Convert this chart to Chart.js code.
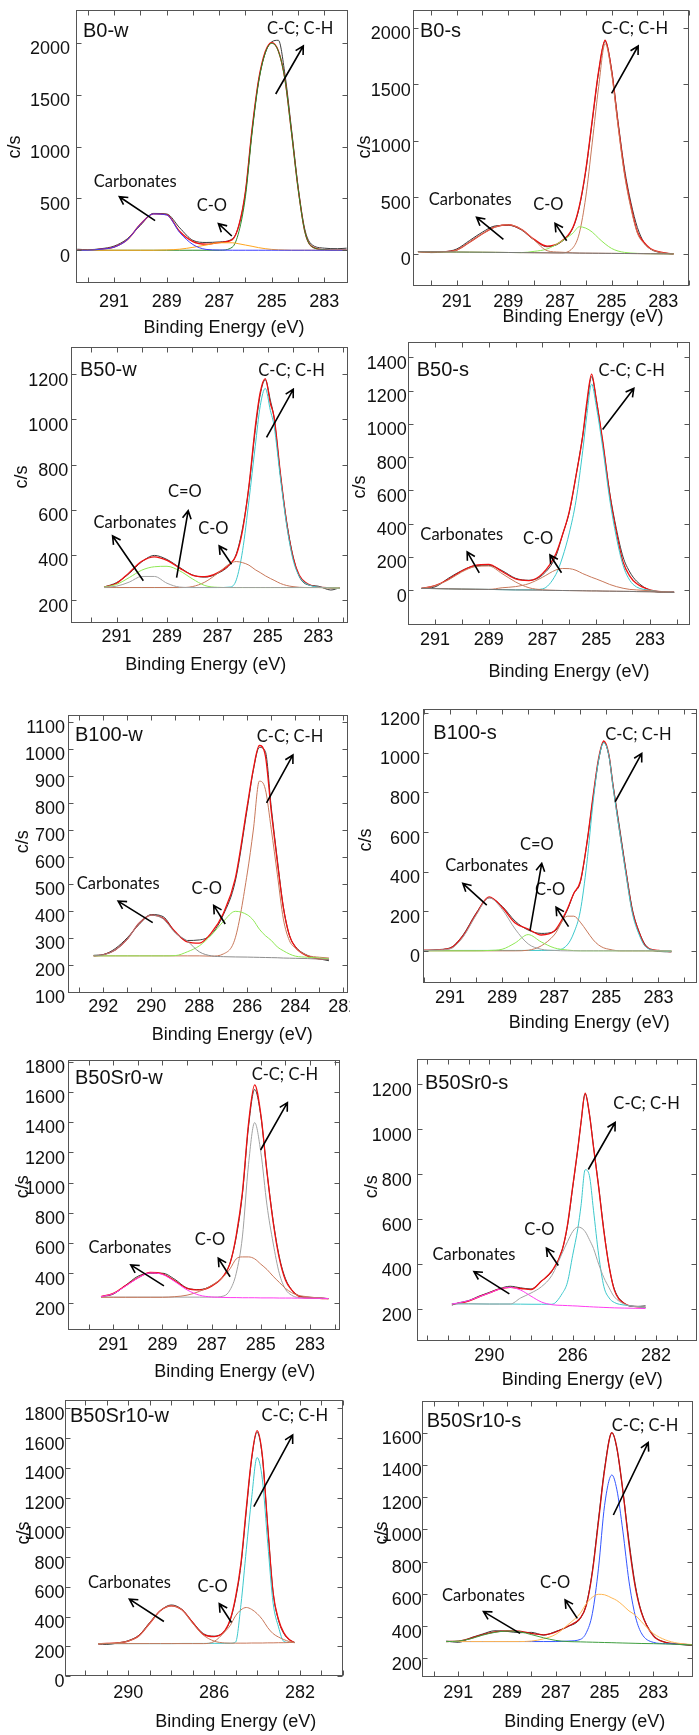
<!DOCTYPE html>
<html>
<head>
<meta charset="utf-8">
<script src="https://cdn.jsdelivr.net/npm/chart.js@4.4.1/dist/chart.umd.min.js"></script>
<style>
  body { margin: 0; background: #fff; }
  #fig { position: relative; width: 699px; height: 1735px; background: #fff; overflow: hidden; }
  #fig canvas { position: absolute; }
</style>
</head>
<body>
<div id="fig"></div>
<script>
"use strict";

// ---------- B0-w ----------
const b0wEnergy = [292.4, 292, 291.5, 291, 290.5, 290, 289.5, 289, 288.5, 288, 287.5, 287, 286.5, 286.25, 286, 285.75, 285.5, 285.25, 285, 284.75, 284.5, 284.25, 284, 283.75, 283.5, 283, 282.5, 282.15];
const b0wRaw  = [10, 5, 15, 40, 110, 240, 355, 350, 215, 95, 75, 80, 110, 240, 560, 1150, 1630, 1900, 2010, 2025, 1700, 1170, 620, 210, 60, 20, 15, 20];
const b0wFit  = [0, 0, 10, 30, 100, 250, 350, 343, 180, 83, 58, 74, 102, 242, 570, 1168, 1645, 1915, 2003, 1924, 1652, 1140, 600, 190, 40, 5, 0, 0];
const b0wCC   = [0, 0, 0, 0, 0, 0, 0, 0, 0, 0, 0, 0, 30, 180, 520, 1130, 1620, 1900, 1995, 1920, 1650, 1140, 600, 190, 40, 5, 0, 0];
const b0wCO   = [0, 0, 0, 0, 0, 0, 0, 3, 10, 28, 50, 72, 72, 62, 50, 38, 25, 15, 8, 4, 2, 0, 0, 0, 0, 0, 0, 0];
const b0wCarb = [0, 0, 10, 30, 100, 250, 350, 340, 170, 55, 8, 2, 0, 0, 0, 0, 0, 0, 0, 0, 0, 0, 0, 0, 0, 0, 0, 0];
const b0wYTicks = [0, 500, 1000, 1500, 2000];
const b0wXLabels = [291, 289, 287, 285, 283];

// ---------- B0-s ----------
const b0sEnergy = [292.5, 292, 291.5, 291, 290.5, 290, 289.5, 289, 288.5, 288, 287.5, 287, 286.5, 286.25, 286, 285.75, 285.5, 285.25, 285, 284.75, 284.5, 284.25, 284, 283.75, 283.5, 283, 282.6];
const b0sRaw  = [18, 8, 14, 40, 115, 190, 245, 250, 210, 120, 60, 95, 225, 410, 730, 1170, 1610, 1880, 1630, 1170, 750, 450, 230, 100, 40, 5, -2];
const b0sFit  = [16, 15, 16, 30, 100, 175, 235, 255, 215, 125, 65, 100, 230, 420, 740, 1180, 1620, 1890, 1620, 1150, 720, 420, 190, 100, 45, 8, -4];
const b0sCC   = [16, 15, 14, 13, 12, 11, 10, 9, 8, 7, 6, 5, 50, 180, 500, 980, 1480, 1860, 1600, 1130, 700, 400, 180, 90, 40, 5, -4];
const b0sCO   = [16, 15, 14, 13, 12, 11, 10, 9, 8, 19, 40, 100, 180, 237, 225, 190, 135, 85, 45, 22, 10, 4, 1, -1, -2, -3, -4];
const b0sCarb = [16, 15, 16, 30, 100, 175, 235, 255, 215, 120, 25, 12, 6, 3.5, 3, 2.5, 2, 1.5, 1, 0.5, 0, -0.5, -1, -1.5, -2, -3, -4];
const b0sBase = [16, 15, 14, 13, 12, 11, 10, 9, 8, 7, 6, 5, 4, 3.5, 3, 2.5, 2, 1.5, 1, 0.5, 0, -0.5, -1, -1.5, -2, -3, -4];
const b0sYTicks = [0, 500, 1000, 1500, 2000];
const b0sXLabels = [291, 289, 287, 285, 283];

// ---------- B50-w ----------
const b50wEnergy = [291.5, 291, 290.5, 290, 289.5, 289, 288.5, 288, 287.5, 287, 286.5, 286.25, 286, 285.75, 285.5, 285.3, 285.1, 284.9, 284.75, 284.5, 284.25, 284, 283.75, 283.5, 283, 282.5, 282.15];
const b50wRaw  = [258, 278, 318, 370, 398, 380, 345, 312, 302, 318, 358, 405, 520, 700, 950, 1110, 1175, 1085, 1005, 755, 545, 395, 305, 272, 262, 245, 255];
const b50wFit  = [257, 275, 322, 372, 392, 376, 342, 311, 304, 321, 360, 400, 510, 705, 965, 1120, 1180, 1071, 1010, 760, 540, 390, 310, 278, 258, 255, 252];
const b50wCC   = [256, 256, 256, 256, 256, 256, 256, 256, 256, 256, 258, 290, 420, 640, 880, 1060, 1137, 1040, 970, 740, 530, 380, 305, 275, 258, 255, 252];
const b50wCO   = [256, 256, 256, 256, 256, 256, 256, 260, 280, 318, 362, 371, 366, 355, 335, 322, 308, 296, 288, 274, 265, 260, 257, 256, 256, 255, 253];
const b50wCeqO = [258, 270, 300, 333, 348, 350, 330, 295, 265, 257, 256, 256, 256, 256, 256, 256, 256, 256, 256, 256, 256, 256, 256, 256, 256, 255, 253];
const b50wCarb = [257, 262, 280, 305, 305, 275, 258, 256, 256, 256, 256, 256, 256, 256, 256, 256, 256, 256, 256, 256, 256, 256, 256, 256, 256, 255, 253];
const b50wYTicks = [200, 400, 600, 800, 1000, 1200];
const b50wXLabels = [291, 289, 287, 285, 283];

// ---------- B50-s ----------
const b50sEnergy = [291.5, 291, 290.5, 290, 289.5, 289, 288.5, 288, 287.5, 287, 286.5, 286.25, 286, 285.75, 285.5, 285.35, 285.17, 285, 284.75, 284.5, 284.25, 284, 283.75, 283.5, 283, 282.5, 282.1];
const b50sRaw  = [12, 20, 72, 118, 148, 150, 118, 72, 60, 92, 205, 335, 470, 690, 930, 1110, 1285, 1150, 880, 590, 370, 200, 110, 55, 0, -12, -10];
const b50sFit  = [11, 28, 66, 116, 150, 156, 113, 68, 58, 100, 220, 335, 475, 690, 930, 1130, 1300, 1150, 890, 580, 350, 170, 85, 40, 2, -10, -13];
const b50sCC   = [11, 10, 8.5, 7, 6, 5, 3.5, 2, 3, 8, 95, 200, 345, 540, 840, 1050, 1240, 1110, 850, 550, 320, 150, 60, 20, 0, -10, -13];
const b50sCO   = [11, 10, 8.5, 7, 6, 5, 15, 22, 40, 78, 122, 131, 130, 120, 100, 90, 78, 68, 52, 35, 22, 12, 5, 2, -3, -10, -13];
const b50sCarb = [11, 27, 62, 110, 142, 146, 100, 50, 15, 3, -1, -1.5, -2, -2.5, -3, -3.5, -4, -4, -5, -5.5, -6, -6.5, -7, -8, -9, -11, -13];
const b50sBase = [11, 10, 8.5, 7, 6, 5, 3.5, 2, 1, 0, -1, -1.5, -2, -2.5, -3, -3.5, -4, -4, -5, -5.5, -6, -6.5, -7, -8, -9, -11, -13];
const b50sYTicks = [0, 200, 400, 600, 800, 1000, 1200, 1400];
const b50sXLabels = [291, 289, 287, 285, 283];

// ---------- B100-w ----------
const b100wEnergy = [292.4, 292, 291.5, 291, 290.5, 290, 289.5, 289, 288.5, 288, 287.5, 287, 286.5, 286, 285.75, 285.5, 285.25, 285, 284.75, 284.5, 284.25, 284, 283.5, 283, 282.6];
const b100wRaw  = [235, 238, 260, 300, 350, 386, 378, 320, 290, 292, 312, 385, 510, 780, 920, 1005, 990, 780, 590, 415, 310, 268, 235, 222, 215];
const b100wFit  = [233, 237, 255, 295, 355, 384, 372, 322, 285, 280, 318, 390, 520, 790, 925, 1012, 975, 765, 580, 412, 310, 265, 232, 222, 220];
const b100wCC   = [233, 233, 233, 233, 233, 233, 233, 233, 233, 233, 232, 240, 300, 540, 699, 880, 850, 700, 535, 370, 290, 262, 235, 228, 225];
const b100wCO   = [233, 233, 233, 233, 233, 233, 233, 234, 248, 270, 310, 360, 398, 385, 365, 332, 308, 290, 266, 252, 240, 232, 228, 225, 222];
const b100wCarb = [233, 237, 255, 295, 355, 384, 370, 318, 288, 248, 233, 230, 229, 228.5, 228, 227.5, 227, 226.5, 226, 225, 224.5, 224, 223, 221, 220];
const b100wYTicks = [100, 200, 300, 400, 500, 600, 700, 800, 900, 1000, 1100];
const b100wXLabels = [292, 290, 288, 286, 284, 282];

// ---------- B100-s ----------
const b100sEnergy = [292, 291.5, 291, 290.5, 290, 289.5, 289, 288.5, 288, 287.5, 287, 286.5, 286.25, 286, 285.75, 285.5, 285.3, 285.1, 284.9, 284.75, 284.5, 284.25, 284, 283.75, 283.5, 283, 282.5];
const b100sRaw  = [0, 6, 15, 80, 190, 268, 225, 150, 105, 88, 98, 205, 290, 345, 540, 780, 960, 1055, 985, 845, 630, 410, 210, 100, 30, -3, -5];
const b100sFit  = [3, 5, 12, 75, 185, 272, 220, 140, 110, 80, 100, 210, 290, 350, 540, 790, 970, 1060, 990, 840, 615, 400, 200, 95, 25, 2, -4];
const b100sCC   = [2, 2, 2, 2, 2, 2, 2, 2, 2, 2, 2, 30, 90, 200, 440, 760, 960, 1051, 985, 835, 610, 390, 190, 85, 22, 0, -4];
const b100sCO   = [0, 0, 0, 0, 0, 0, 0, 0, 3, 25, 80, 175, 175, 145, 100, 55, 30, 15, 8, 4, 0, 0, 0, 0, 0, 0, 0];
const b100sCeqO = [0, 0, 0, 0, 0, 2, 8, 40, 82, 45, 15, 4, 1, 0, 0, 0, 0, 0, 0, 0, 0, 0, 0, 0, 0, 0, 0];
const b100sCarb = [2, 4, 10, 70, 180, 268, 210, 110, 35, 8, 2, 0, 0, 0, 0, 0, 0, 0, 0, 0, 0, 0, 0, 0, 0, 0, 0];
const b100sYTicks = [0, 200, 400, 600, 800, 1000, 1200];
const b100sXLabels = [291, 289, 287, 285, 283];

// ---------- B50Sr0-w ----------
const b50sr0wEnergy = [291.5, 291, 290.5, 290, 289.5, 289, 288.5, 288, 287.5, 287, 286.5, 286.25, 286, 285.75, 285.5, 285.25, 285, 284.75, 284.5, 284.25, 284, 283.75, 283.5, 283, 282.5, 282.25];
const b50sr0wRaw  = [245, 262, 320, 380, 400, 400, 360, 302, 292, 318, 385, 470, 640, 920, 1370, 1615, 1440, 1070, 750, 510, 365, 292, 255, 240, 236, 232];
const b50sr0wFit  = [246, 267, 318, 370, 405, 396, 350, 300, 290, 315, 386, 465, 650, 935, 1390, 1645, 1450, 1070, 740, 500, 355, 290, 252, 235, 233, 232];
const b50sr0wCC   = [242, 242, 242, 242, 242, 242, 242, 242, 242, 242, 250, 290, 400, 640, 1120, 1396, 1200, 850, 600, 400, 295, 255, 240, 236, 234, 232];
const b50sr0wCO   = [241, 241, 241, 241, 241, 241, 245, 255, 280, 320, 380, 430, 495, 508, 508, 495, 460, 425, 380, 340, 300, 272, 255, 243, 234, 232];
const b50sr0wCarb = [245, 265, 315, 368, 402, 392, 345, 290, 255, 243, 240, 239, 239, 238, 238, 238, 237, 237, 237, 236, 236, 236, 235, 235, 234, 233];
const b50sr0wYTicks = [200, 400, 600, 800, 1000, 1200, 1400, 1600, 1800];
const b50sr0wXLabels = [291, 289, 287, 285, 283];

// ---------- B50Sr0-s ----------
const b50sr0sEnergy = [291.8, 291.5, 291, 290.5, 290, 289.5, 289, 288.5, 288, 287.5, 287, 286.5, 286.25, 286, 285.75, 285.6, 285.4, 285.2, 285, 284.75, 284.5, 284.25, 284, 283.5, 283, 282.5];
const b50sr0sRaw  = [218, 228, 238, 258, 275, 292, 302, 295, 290, 325, 368, 465, 570, 740, 915, 1030, 1158, 1070, 925, 745, 550, 390, 290, 225, 212, 215];
const b50sr0sFit  = [223, 226, 236, 255, 272, 290, 297, 292, 287, 325, 370, 465, 575, 745, 915, 1030, 1160, 1070, 920, 740, 545, 390, 285, 224, 212, 208];
const b50sr0sCC   = [224, 224, 224, 223.5, 223, 223, 223, 222.5, 222, 222, 222, 270, 320, 440, 560, 660, 820, 795, 640, 440, 300, 250, 230, 218, 213, 208];
const b50sr0sCO   = [224, 224, 224, 223.5, 223, 223, 223, 250, 272, 300, 350, 450, 500, 545, 565, 562, 545, 510, 470, 400, 340, 295, 255, 222, 212, 208];
const b50sr0sCarb = [223, 228, 238, 255, 272, 290, 297, 285, 258, 232, 220, 217, 216, 215, 214, 213, 212, 211, 210, 209, 208, 207, 206, 205, 204, 203];
const b50sr0sYTicks = [200, 400, 600, 800, 1000, 1200];
const b50sr0sXLabels = [290, 286, 282];

// ---------- B50Sr10-w ----------
const b50sr10wEnergy = [291.4, 291, 290.5, 290, 289.5, 289, 288.5, 288, 287.5, 287, 286.5, 286, 285.5, 285.25, 285, 284.75, 284.5, 284.25, 284, 283.75, 283.5, 283.25, 283, 282.75, 282.5, 282.25];
const b50sr10wRaw  = [215, 212, 222, 238, 275, 360, 440, 478, 448, 362, 285, 268, 305, 375, 520, 745, 1110, 1460, 1640, 1470, 1000, 560, 375, 285, 245, 226];
const b50sr10wFit  = [217, 219, 223, 235, 270, 355, 440, 472, 445, 360, 280, 265, 305, 380, 530, 760, 1130, 1470, 1651, 1480, 1000, 560, 380, 290, 245, 224];
const b50sr10wCC   = [218, 218, 218, 218, 218, 218, 218, 218, 219, 219, 219, 220, 220, 220, 228, 480, 850, 1200, 1470, 1320, 890, 490, 330, 232, 226, 225];
const b50sr10wCO   = [218, 218, 218, 218, 218, 218, 218, 218, 218, 218, 218, 232, 298, 340, 405, 445, 461, 448, 420, 380, 325, 285, 262, 245, 232, 226];
const b50sr10wCarb = [217, 219, 223, 235, 270, 355, 440, 472, 445, 355, 275, 235, 222, 221, 221, 221, 221, 222, 222, 222, 223, 223, 224, 224, 225, 226];
const b50sr10wYTicks = [0, 200, 400, 600, 800, 1000, 1200, 1400, 1600, 1800];
const b50sr10wXLabels = [290, 286, 282];

// ---------- B50Sr10-s ----------
const b50sr10sEnergy = [291.5, 291, 290.5, 290, 289.5, 289, 288.5, 288, 287.5, 287, 286.5, 286, 285.75, 285.5, 285.25, 285, 284.7, 284.5, 284.25, 284, 283.75, 283.5, 283, 282.5, 282, 281.4];
const b50sr10sRaw  = [308, 300, 328, 352, 372, 368, 360, 362, 345, 368, 398, 448, 535, 745, 1065, 1380, 1600, 1505, 1240, 930, 665, 495, 345, 300, 288, 280];
const b50sr10sFit  = [305, 308, 325, 348, 365, 371, 370, 355, 347, 365, 400, 450, 530, 735, 1050, 1370, 1601, 1510, 1240, 910, 650, 490, 340, 300, 290, 284];
const b50sr10sCC   = [305, 305, 305, 305, 305, 305, 305, 305, 305, 305, 308, 318, 360, 480, 760, 1150, 1338, 1250, 990, 680, 470, 360, 300, 292, 290, 285];
const b50sr10sCO   = [305, 305, 305, 305, 305, 305, 305, 308, 322, 350, 410, 480, 540, 580, 598, 595, 575, 560, 530, 495, 470, 430, 355, 315, 295, 286];
const b50sr10sCarb = [305, 308, 322, 345, 362, 370, 366, 348, 328, 312, 305, 303, 302, 301, 300, 299, 298, 297, 296, 295, 294, 293, 292, 290, 288, 284];
const b50sr10sYTicks = [200, 400, 600, 800, 1000, 1200, 1400, 1600];
const b50sr10sXLabels = [291, 289, 287, 285, 283];

const RED = '#ee1111', BLACK = '#3a3a3a', CYAN = '#3cc8cc', BROWN = '#c8785a',
      LGREEN = '#8fe855', GRAY = '#a2a2a2', MAGENTA = '#ff3cf0';
const SANS = '"Liberation Sans", Arial, sans-serif';

// box = canvas [left, top, width, height] on the page, area = plot frame [left, top, right, bottom]
const panels = [
  { name: 'B0-w', box: [0, 0, 350, 340], area: [76, 10, 347.7, 283], x: [282.11, 292.45], y: [-316, 2317],
    energy: b0wEnergy, yTicks: b0wYTicks, xLabels: b0wXLabels, yPad: 6, xPad: 8,
    series: [[b0wCarb, '#3c3cff'], [b0wCO, '#ffa51f'], [b0wCC, '#2a8a2a'], [b0wFit, RED, 1.3], [b0wRaw, BLACK]],
    namePos: [83, 31.7], yTitle: [15.5, 147], xTitle: [224, 328],
    notes: [['C-C; C-H', 283.92, 2140], ['Carbonates', 290.2, 660], ['C-O', 287.28, 426]],
    arrows: [[284.85, 1507, 283.8, 1970], [289.44, 285, 290.8, 516], [286.52, 137, 287.03, 256]] },
  { name: 'B0-s', box: [350, 0, 349, 336], area: [413.3, 10, 689.3, 286], x: [281.99, 292.68], y: [-288, 2158],
    energy: b0sEnergy, yTicks: b0sYTicks, xLabels: b0sXLabels, yPad: 2.6, xPad: 5,
    series: [[b0sBase, '#777777'], [b0sCarb, BROWN], [b0sCO, LGREEN], [b0sCC, BROWN], [b0sFit, RED, 1.3], [b0sRaw, BLACK]],
    namePos: [420, 31.7], yTitle: [365, 147], xTitle: [583, 316.7],
    notes: [['C-C; C-H', 284.1, 1996], ['Carbonates', 290.48, 474], ['C-O', 287.45, 430]],
    arrows: [[285.0, 1420, 283.97, 1839], [289.19, 125, 290.23, 320], [286.74, 113, 287.19, 267]] },
  { name: 'B50-w', box: [0, 340, 350, 365], area: [71, 347, 347.7, 623.3], x: [281.83, 292.81], y: [97.8, 1320],
    energy: b50wEnergy, yTicks: b50wYTicks, xLabels: b50wXLabels, yPad: 2.7, xPad: 3,
    series: [[b50wCarb, GRAY], [b50wCeqO, LGREEN], [b50wCO, BROWN], [b50wCC, CYAN], [b50wFit, RED, 1.3], [b50wRaw, BLACK]],
    namePos: [80, 370.7], yTitle: [21.7, 477], xTitle: [205.7, 665],
    notes: [['C-C; C-H', 284.06, 1216], ['C=O', 288.29, 680], ['Carbonates', 290.27, 543], ['C-O', 287.16, 518]],
    arrows: [[285.05, 920, 283.99, 1133], [288.62, 300, 288.16, 596], [289.94, 286, 291.16, 484], [286.44, 359, 286.93, 440]] },
  { name: 'B50-s', box: [350, 336, 349, 369], area: [408.3, 341.7, 690, 625], x: [281.51, 291.99], y: [-209, 1495],
    energy: b50sEnergy, yTicks: b50sYTicks, xLabels: b50sXLabels, yPad: 1.6, xPad: 4,
    series: [[b50sBase, '#777777'], [b50sCarb, BROWN], [b50sCO, BROWN], [b50sCC, CYAN], [b50sFit, RED, 1.3], [b50sRaw, BLACK]],
    namePos: [416.7, 370.7], yTitle: [360, 487], xTitle: [569, 671.7],
    notes: [['C-C; C-H', 283.68, 1321], ['Carbonates', 290.0, 332], ['C-O', 287.16, 312]],
    arrows: [[284.76, 967, 283.6, 1214], [289.35, 105, 289.8, 231], [286.29, 105, 286.72, 212]] },
  { name: 'B100-w', box: [0, 705, 350, 345], area: [67.7, 715, 347.7, 993.3], x: [281.82, 293.48], y: [94.4, 1125],
    energy: b100wEnergy, yTicks: b100wYTicks, xLabels: b100wXLabels, yPad: 2.7, xPad: 3,
    series: [[b100wCarb, '#8c8c8c'], [b100wCO, LGREEN], [b100wCC, BROWN], [b100wFit, RED, 1.3], [b100wRaw, BLACK]],
    namePos: [75, 735], yTitle: [23.3, 841.7], xTitle: [232.3, 1035],
    notes: [['C-C; C-H', 284.22, 1045], ['Carbonates', 291.38, 502], ['C-O', 287.69, 483]],
    arrows: [[285.2, 800, 284.1, 977], [289.94, 356, 291.38, 436], [286.92, 351, 287.4, 420]] },
  { name: 'B100-s', box: [350, 705, 349, 345], area: [422.7, 709.3, 696.7, 983.3], x: [281.53, 292.05], y: [-164, 1220],
    energy: b100sEnergy, yTicks: b100sYTicks, xLabels: b100sXLabels, yPad: 2.7, xPad: 4,
    series: [[b100sCarb, GRAY], [b100sCeqO, LGREEN], [b100sCO, BROWN], [b100sCC, CYAN], [b100sFit, RED, 1.3], [b100sRaw, BLACK]],
    namePos: [433.3, 733.3], yTitle: [366, 840], xTitle: [589.3, 1023.3],
    notes: [['C-C; C-H', 283.77, 1090], ['C=O', 287.67, 534], ['Carbonates', 289.59, 428], ['C-O', 287.16, 307]],
    arrows: [[284.66, 753, 283.64, 997], [287.93, 102, 287.48, 442], [289.59, 231, 290.51, 341], [286.45, 122, 286.93, 220]] },
  { name: 'B50Sr0-w', box: [0, 1050, 350, 340], area: [68.3, 1060, 340, 1330], x: [281.78, 292.83], y: [24.7, 1810],
    energy: b50sr0wEnergy, yTicks: b50sr0wYTicks, xLabels: b50sr0wXLabels, yPad: 3.3, xPad: 4,
    series: [[b50sr0wCarb, MAGENTA], [b50sr0wCO, BROWN], [b50sr0wCC, GRAY], [b50sr0wFit, RED, 1.3], [b50sr0wRaw, BLACK]],
    namePos: [75, 1078.3], yTitle: [22.7, 1186.7], xTitle: [234.7, 1371.7],
    notes: [['C-C; C-H', 284.02, 1711], ['Carbonates', 290.32, 571], ['C-O', 287.07, 620]],
    arrows: [[285.01, 1215, 283.92, 1528], [288.94, 316, 290.29, 455], [286.25, 377, 286.73, 499]] },
  { name: 'B50Sr0-s', box: [350, 1050, 349, 340], area: [416.7, 1059.3, 697, 1340.7], x: [280.03, 293.49], y: [60, 1311],
    energy: b50sr0sEnergy, yTicks: b50sr0sYTicks, xLabels: b50sr0sXLabels, yPad: 5, xPad: 4.5,
    series: [[b50sr0sCarb, MAGENTA], [b50sr0sCO, GRAY], [b50sr0sCC, CYAN], [b50sr0sFit, RED, 1.3], [b50sr0sRaw, BLACK]],
    namePos: [425, 1083.3], yTitle: [371.7, 1186.7], xTitle: [582.3, 1380],
    notes: [['C-C; C-H', 282.45, 1112], ['Carbonates', 290.74, 441], ['C-O', 287.6, 553]],
    arrows: [[285.25, 821, 283.96, 1030], [289.04, 268, 290.74, 367], [286.69, 394, 287.26, 472]] },
  { name: 'B50Sr10-w', box: [0, 1390, 350, 345], area: [65, 1400, 343.3, 1676], x: [279.98, 292.95], y: [0, 1857],
    energy: b50sr10wEnergy, yTicks: b50sr10wYTicks, xLabels: b50sr10wXLabels, yPad: 0.5, xPad: 6.5,
    series: [[b50sr10wCarb, BROWN], [b50sr10wCO, BROWN], [b50sr10wCC, CYAN], [b50sr10wFit, RED, 1.3], [b50sr10wRaw, BLACK]],
    namePos: [70, 1416.7], yTitle: [24, 1533], xTitle: [235.7, 1721.7],
    notes: [['C-C; C-H', 282.24, 1750], ['Carbonates', 289.95, 629], ['C-O', 286.07, 602]],
    arrows: [[284.15, 1140, 282.34, 1622], [288.34, 367, 289.95, 517], [285.19, 360, 285.76, 486]] },
  { name: 'B50Sr10-s', box: [350, 1390, 349, 345], area: [422.3, 1401, 693.3, 1676.7], x: [281.36, 292.48], y: [87, 1797],
    energy: b50sr10sEnergy, yTicks: b50sr10sYTicks, xLabels: b50sr10sXLabels, yPad: 0.6, xPad: 6,
    series: [[b50sr10sCarb, '#3f9e3f'], [b50sr10sCO, '#ffb653'], [b50sr10sCC, '#3355ff'], [b50sr10sFit, '#d01010', 1.3], [b50sr10sRaw, BLACK]],
    namePos: [426.7, 1421.7], yTitle: [381.7, 1533], xTitle: [584.7, 1721.7],
    notes: [['C-C; C-H', 283.34, 1642], ['Carbonates', 289.97, 588], ['C-O', 287.03, 670]],
    arrows: [[284.64, 1090, 283.21, 1539], [288.47, 356, 289.97, 491], [286.12, 449, 286.62, 563]] }
];

function drawArrow(ctx, x1, y1, x2, y2) {
  const ang = Math.atan2(y2 - y1, x2 - x1), h = 9, spread = 0.5;
  ctx.beginPath();
  ctx.moveTo(x1, y1);
  ctx.lineTo(x2, y2);
  ctx.moveTo(x2 - h * Math.cos(ang - spread), y2 - h * Math.sin(ang - spread));
  ctx.lineTo(x2, y2);
  ctx.lineTo(x2 - h * Math.cos(ang + spread), y2 - h * Math.sin(ang + spread));
  ctx.stroke();
}

function drawDeco(chart, p) {
  const ctx = chart.ctx, a = chart.chartArea, xs = chart.scales.x, ys = chart.scales.y;
  const ox = p.box[0], oy = p.box[1];
  ctx.save();
  // frame + inward ticks on all four sides
  const l = Math.round(a.left) + 0.5, t = Math.round(a.top) + 0.5;
  const r = Math.round(a.right) - 0.5, b = Math.round(a.bottom) - 0.5;
  ctx.strokeStyle = '#555';
  ctx.lineWidth = 1;
  ctx.strokeRect(l, t, r - l, b - t);
  ctx.beginPath();
  for (let e = Math.ceil(p.x[0]); e <= Math.floor(p.x[1]); e++) {
    const px = Math.round(xs.getPixelForValue(e)) + 0.5;
    ctx.moveTo(px, b); ctx.lineTo(px, b - 5);
    ctx.moveTo(px, t); ctx.lineTo(px, t + 5);
  }
  p.yTicks.forEach(v => {
    const py = Math.round(ys.getPixelForValue(v)) + 0.5;
    ctx.moveTo(l, py); ctx.lineTo(l + 5, py);
    ctx.moveTo(r, py); ctx.lineTo(r - 5, py);
  });
  ctx.stroke();

  ctx.fillStyle = '#111';
  ctx.textBaseline = 'middle';
  ctx.textAlign = 'left';
  ctx.font = '20px ' + SANS;
  ctx.fillText(p.name, p.namePos[0] - ox, p.namePos[1] - oy);

  ctx.textAlign = 'center';
  ctx.font = '18px ' + SANS;
  ctx.fillText('Binding Energy (eV)', p.xTitle[0] - ox, p.xTitle[1] - oy);
  ctx.save();
  ctx.translate(p.yTitle[0] - ox, p.yTitle[1] - oy);
  ctx.rotate(-Math.PI / 2);
  ctx.fillText('c/s', 0, 0);
  ctx.restore();

  ctx.font = '16.5px Lato, "Open Sans", sans-serif';
  p.notes.forEach(n => ctx.fillText(n[0], xs.getPixelForValue(n[1]), ys.getPixelForValue(n[2])));

  ctx.strokeStyle = '#000';
  ctx.lineWidth = 1.6;
  p.arrows.forEach(q => drawArrow(ctx,
    xs.getPixelForValue(q[0]), ys.getPixelForValue(q[1]),
    xs.getPixelForValue(q[2]), ys.getPixelForValue(q[3])));
  ctx.restore();
}

const fig = document.getElementById('fig');

panels.forEach(p => {
  const [ox, oy, w, h] = p.box;
  const [L, T, R, B] = p.area;
  const canvas = document.createElement('canvas');
  canvas.width = w;
  canvas.height = h;
  canvas.style.left = ox + 'px';
  canvas.style.top = oy + 'px';
  canvas.style.width = w + 'px';
  canvas.style.height = h + 'px';
  fig.appendChild(canvas);

  const datasets = p.series.map(s => ({
    data: p.energy.map((e, i) => ({ x: e, y: s[0][i] })),
    borderColor: s[1],
    borderWidth: s[2] || 1,
    pointRadius: 0,
    fill: false,
    cubicInterpolationMode: 'monotone'
  }));

  new Chart(canvas, {
    type: 'line',
    data: { datasets: datasets },
    options: {
      responsive: false,
      animation: false,
      events: [],
      devicePixelRatio: 1,
      layout: { padding: { top: T - oy, right: ox + w - R, left: 0, bottom: 0 } },
      plugins: { legend: { display: false }, tooltip: { enabled: false }, title: { display: false } },
      scales: {
        x: {
          type: 'linear', reverse: true, min: p.x[0], max: p.x[1],
          grid: { display: false, drawTicks: false }, border: { display: false },
          afterBuildTicks: s => {
            const ticks = [];
            for (let e = Math.ceil(p.x[0]); e <= Math.floor(p.x[1]); e++) ticks.push({ value: e });
            s.ticks = ticks;
          },
          afterFit: s => { s.height = oy + h - B; s.paddingLeft = 0; s.paddingRight = 0; },
          ticks: {
            autoSkip: false, maxRotation: 0, minRotation: 0, padding: p.xPad, color: '#111',
            font: { family: SANS, size: 18 },
            callback: v => p.xLabels.includes(v) ? String(v) : ''
          }
        },
        y: {
          type: 'linear', min: p.y[0], max: p.y[1],
          grid: { display: false, drawTicks: false }, border: { display: false },
          afterBuildTicks: s => { s.ticks = p.yTicks.map(v => ({ value: v })); },
          afterFit: s => { s.width = L - ox; s.paddingTop = 0; s.paddingBottom = 0; },
          ticks: {
            autoSkip: false, padding: p.yPad, labelOffset: 6.5, color: '#111',
            font: { family: SANS, size: 18 },
            callback: v => String(v)
          }
        }
      }
    },
    plugins: [{ id: 'deco', afterDraw: chart => drawDeco(chart, p) }]
  });
});
</script>
</body>
</html>
